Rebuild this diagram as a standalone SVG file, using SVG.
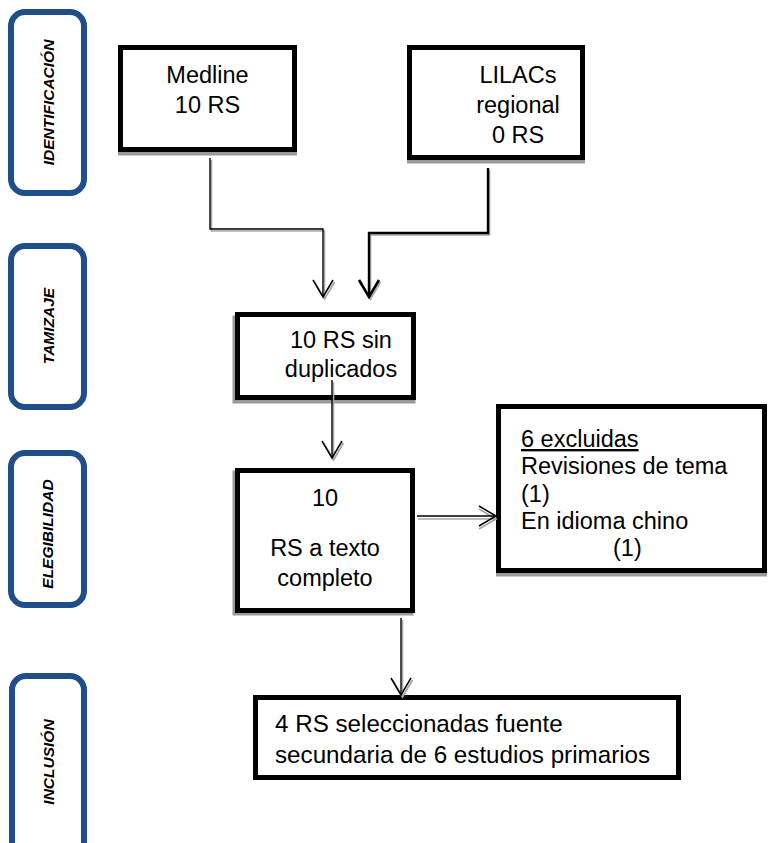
<svg xmlns="http://www.w3.org/2000/svg" width="769" height="843" viewBox="0 0 769 843">
<style>
.phase{fill:#fff;stroke:#1f4e89;stroke-width:6}
.ptxt{font-family:"Liberation Sans",Arial,sans-serif;font-weight:bold;font-style:italic;font-size:15.5px;fill:#000;text-anchor:middle}
.box{fill:#fff;stroke:#000;stroke-width:5}
.shadow{fill:none;stroke:#9a9a9a;stroke-width:5}
.txt{font-family:"Liberation Sans",Arial,sans-serif;font-size:23.5px;fill:#000}
.big{font-size:24.2px}
.c{text-anchor:middle}
.ln{fill:none;stroke:#000;stroke-width:1.4}
.lnb{fill:none;stroke:#000;stroke-width:2.4}
.sh{fill:none;stroke:#a8a8a8;stroke-width:1.6}
</style>
<defs>
<marker id="arr" markerUnits="userSpaceOnUse" markerWidth="24" markerHeight="24" viewBox="0 0 24 24" refX="20" refY="12" orient="auto"><path d="M3,2 L20,12 L3,22" fill="none" stroke="#000" stroke-width="1.5"/></marker>
<marker id="arrb" markerUnits="userSpaceOnUse" markerWidth="24" markerHeight="24" viewBox="0 0 24 24" refX="20" refY="12" orient="auto"><path d="M3,2 L20,12 L3,22" fill="none" stroke="#000" stroke-width="2.6"/></marker>
<marker id="arrs" markerUnits="userSpaceOnUse" markerWidth="24" markerHeight="24" viewBox="0 0 24 24" refX="20" refY="12" orient="auto"><path d="M3,2 L20,12 L3,22" fill="none" stroke="#a8a8a8" stroke-width="1.8"/></marker>
</defs>

<g id="phase-identificacion"><rect class="phase" x="11" y="12" width="73" height="181" rx="14"/><text class="ptxt" transform="translate(54,102.5) rotate(-90)">IDENTIFICACIÓN</text></g>
<g id="phase-tamizaje"><rect class="phase" x="11" y="246" width="73" height="161" rx="14"/><text class="ptxt" transform="translate(54,326) rotate(-90)">TAMIZAJE</text></g>
<g id="phase-elegibilidad"><rect class="phase" x="11" y="453" width="73" height="152" rx="14"/><text class="ptxt" transform="translate(53,534) rotate(-90)">ELEGIBILIDAD</text></g>
<g id="phase-inclusion"><rect class="phase" x="12" y="676" width="72" height="200" rx="14"/><text class="ptxt" transform="translate(54,762) rotate(-90)">INCLUSIÓN</text></g>

<g id="medline"><rect class="shadow" x="120.5" y="51" width="174" height="102"/><rect class="box" x="120.5" y="47.5" width="174" height="102"/><text class="txt c" x="207.5" y="83">Medline</text><text class="txt c" x="207.5" y="113">10 RS</text></g>
<g id="lilacs"><rect class="shadow" x="409.5" y="51" width="173" height="110"/><rect class="box" x="409.5" y="47.5" width="173" height="110"/><text class="txt c" x="518" y="83">LILACs</text><text class="txt c" x="518" y="113">regional</text><text class="txt c" x="518" y="143">0 RS</text></g>
<g id="sin-duplicados"><rect class="shadow" x="235" y="318" width="178" height="83"/><rect class="box" x="237.5" y="314.5" width="176" height="83"/><text class="txt c" x="341" y="348">10 RS sin</text><text class="txt c" x="341" y="377">duplicados</text></g>
<g id="texto-completo"><rect class="shadow" x="235" y="473" width="176" height="140"/><rect class="box" x="237.5" y="470.5" width="175" height="140"/><text class="txt c" x="325" y="506">10</text><text class="txt c" x="325" y="556">RS a texto</text><text class="txt c" x="325" y="586">completo</text></g>
<g id="excluidas"><rect class="shadow" x="498.5" y="410" width="266" height="164"/><rect class="box" x="498.5" y="406.5" width="266" height="164"/><text class="txt" x="521" y="447" text-decoration="underline">6 excluidas</text><text class="txt" x="521" y="474">Revisiones de tema</text><text class="txt" x="521" y="502">(1)</text><text class="txt" x="521" y="529">En idioma chino</text><text class="txt" x="613" y="556">(1)</text></g>
<g id="seleccionadas"><rect class="box" x="255.5" y="697.5" width="423" height="80"/><text class="txt big" x="275" y="732">4 RS seleccionadas fuente</text><text class="txt big" x="275" y="763">secundaria de 6 estudios primarios</text></g>

<g id="connectors">
<path class="sh" d="M211.5,160 V231 H324.5 V299" marker-end="url(#arrs)"/>
<path class="ln" d="M210,158 V229 H323 V297" marker-end="url(#arr)"/>
<path class="sh" d="M489.5,170 V235 H370.5 V299" marker-end="url(#arrs)"/>
<path class="lnb" d="M488,168 V233 H369 V297" marker-end="url(#arrb)"/>
<path class="sh" d="M333.5,382 V460" marker-end="url(#arrs)"/>
<path class="ln" d="M332,380 V458" marker-end="url(#arr)"/>
<path class="sh" d="M418,519 H496" marker-end="url(#arrs)"/>
<path class="ln" d="M417,516 H496" marker-end="url(#arr)"/>
<path class="sh" d="M402.5,620 V697" marker-end="url(#arrs)"/>
<path class="ln" d="M401,618 V695" marker-end="url(#arr)"/>
</g>
</svg>
